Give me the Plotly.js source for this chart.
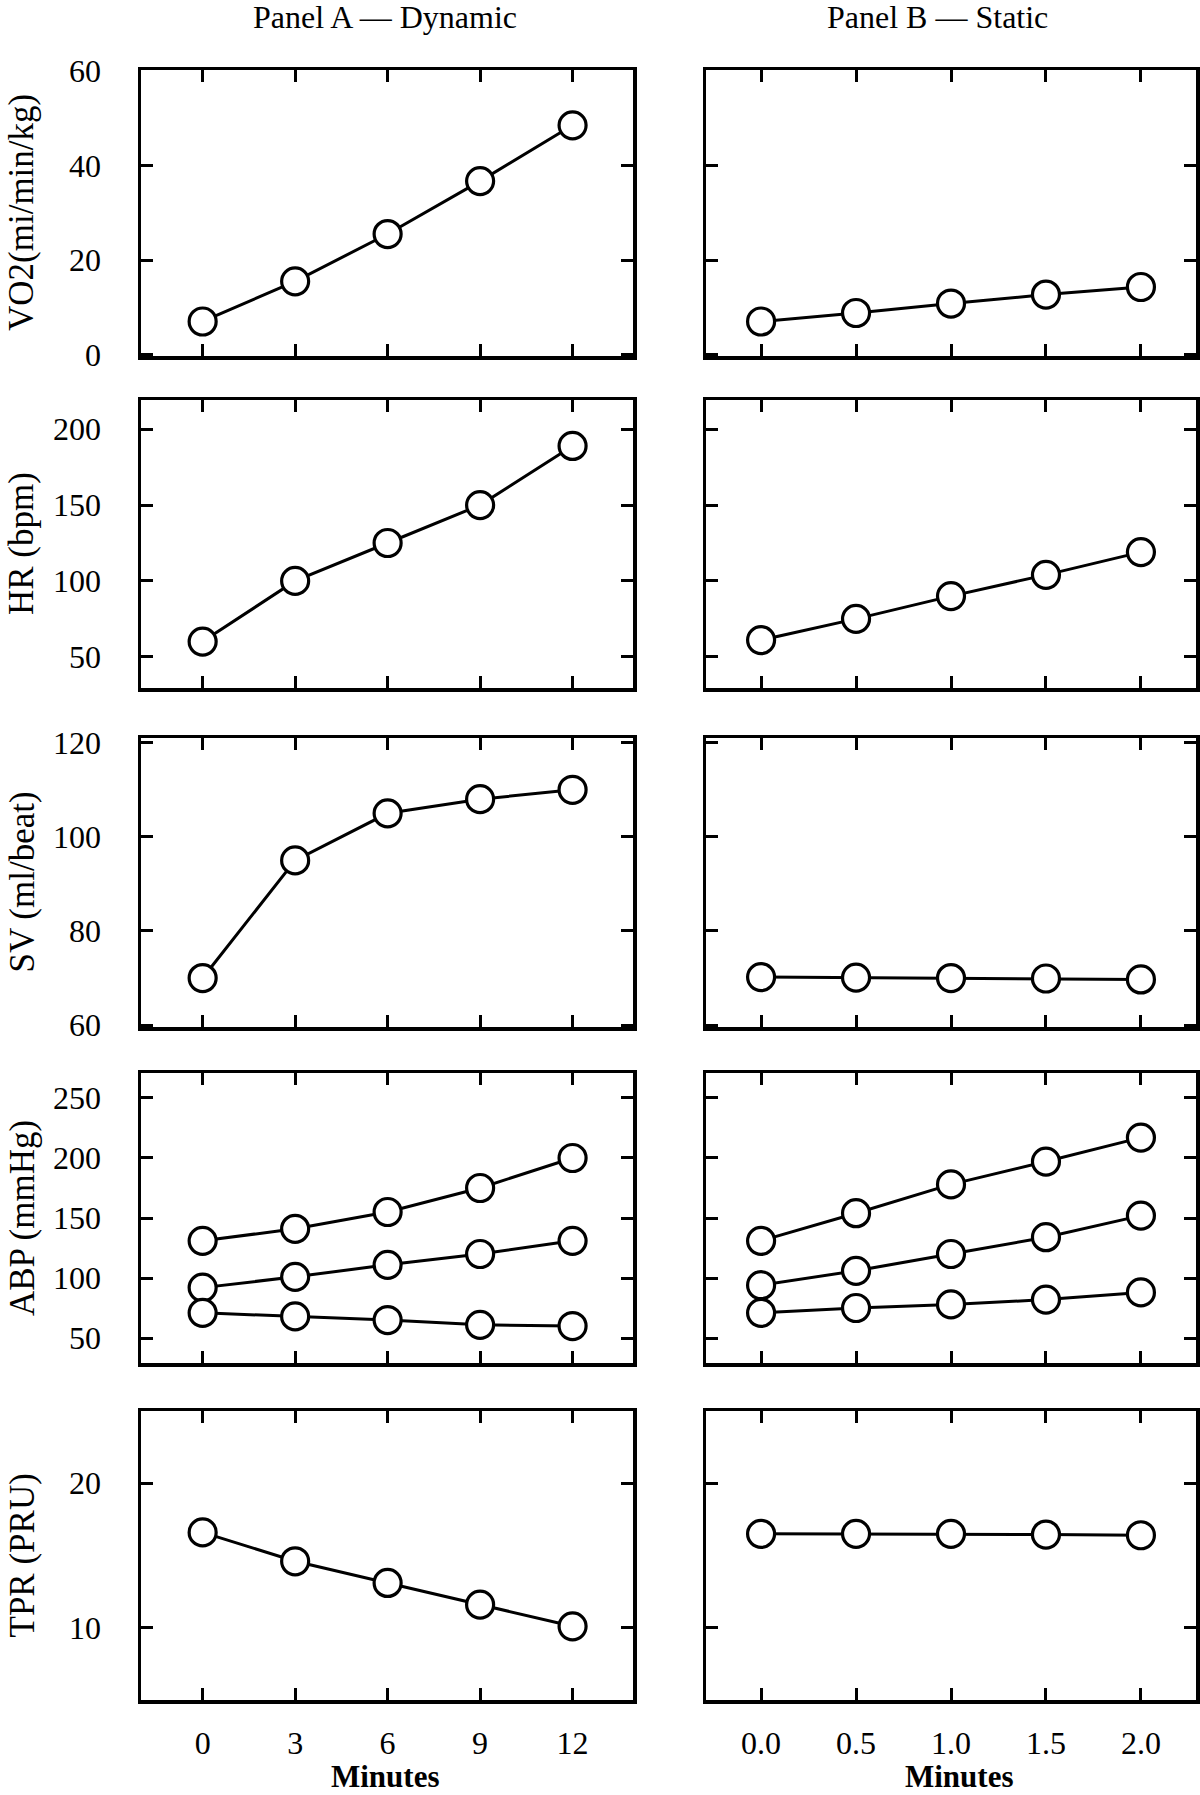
<!DOCTYPE html>
<html>
<head>
<meta charset="utf-8">
<script src="https://cdn.plot.ly/plotly-3.0.1.min.js"></script>
<style>html,body{margin:0;padding:0;background:#fff;}#chart{width:1200px;height:1795px;}</style>
</head>
<body>
<div id="chart"></div>
<script>
// ---- Data ----
const minutesDynamic = [0, 3, 6, 9, 12];
const minutesStatic = [0, 0.5, 1.0, 1.5, 2.0];
const dynamicTickText = ["0", "3", "6", "9", "12"];
const staticTickText = ["0.0", "0.5", "1.0", "1.5", "2.0"];

const vo2Dynamic = [7, 15.5, 25.5, 36.7, 48.5];
const vo2Static = [7, 8.8, 10.8, 12.7, 14.3];
const hrDynamic = [60, 100, 125, 150, 189];
const hrStatic = [61, 75, 90, 104, 119];
const svDynamic = [70, 95, 105, 108, 110];
const svStatic = [70.2, 70.1, 70.0, 69.9, 69.7];
const sbpDynamic = [131, 141, 155, 175, 200];
const mapDynamic = [92, 101, 111, 120, 131];
const dbpDynamic = [71, 68, 65, 61, 60];
const sbpStatic = [131, 154, 178, 197, 217];
const mapStatic = [94, 106, 120, 134, 152];
const dbpStatic = [71, 75, 78, 82, 88];
const tprDynamic = [16.6, 14.6, 13.1, 11.6, 10.1];
const tprStatic = [16.5, 16.5, 16.5, 16.45, 16.4];

const yTitles = ["VO2(mi/min/kg)", "HR (bpm)", "SV (ml/beat)", "ABP (mmHg)", "TPR (PRU)"];
const yTickVals = [[0, 20, 40, 60], [50, 100, 150, 200], [60, 80, 100, 120], [50, 100, 150, 200, 250], [10, 20]];
const columnTitles = ["Panel A \u2014 Dynamic", "Panel B \u2014 Static"];
const xTitle = "Minutes";

// series per row: [dynamic series list, static series list]
const rowSeries = [
  [[vo2Dynamic], [vo2Static]],
  [[hrDynamic], [hrStatic]],
  [[svDynamic], [svStatic]],
  [[sbpDynamic, mapDynamic, dbpDynamic], [sbpStatic, mapStatic, dbpStatic]],
  [[tprDynamic], [tprStatic]]
];

// ---- Layout geometry (pixels) ----
const W = 1200, H = 1795;
const rowPx = [[70, 356], [400, 688], [738, 1027], [1073, 1363], [1411, 1700]];
const colPx = [[141, 633], [706, 1196]];
const yRanges = [[-0.3, 60.2], [29.4, 219.3], [59.6, 121], [29.2, 270.8], [5, 25]];
const xRanges = [[-2, 13.96], [-0.29, 2.29]];
const FONT = "Liberation Serif, Times New Roman, serif";

const traces = [];
const layout = {
  width: W, height: H,
  margin: {l: 0, r: 0, t: 0, b: 0},
  paper_bgcolor: "#fff", plot_bgcolor: "#fff",
  showlegend: false,
  font: {family: FONT, color: "#000", size: 32},
  annotations: []
};

const xsByCol = [minutesDynamic, minutesStatic];
const tickTextByCol = [dynamicTickText, staticTickText];

for (let r = 0; r < 5; r++) {
  for (let c = 0; c < 2; c++) {
    const i = r * 2 + c + 1;
    const xa = "x" + i, ya = "y" + i;
    const xKey = "xaxis" + i, yKey = "yaxis" + i;
    layout[xKey] = {
      domain: [colPx[c][0] / W, colPx[c][1] / W],
      range: xRanges[c],
      anchor: ya,
      showgrid: false, zeroline: false,
      showline: true, linewidth: 3.5, linecolor: "#000", mirror: "ticks",
      ticks: "inside", ticklen: 12, tickwidth: 3, tickcolor: "#000",
      tickmode: "array", tickvals: xsByCol[c], ticktext: tickTextByCol[c],
      showticklabels: r === 4,
      ticklabelstandoff: 12,
      tickfont: {family: FONT, size: 32, color: "#000"},
      fixedrange: true
    };
    layout[yKey] = {
      domain: [1 - rowPx[r][1] / H, 1 - rowPx[r][0] / H],
      range: yRanges[r],
      anchor: xa,
      showgrid: false, zeroline: false,
      showline: true, linewidth: 3.5, linecolor: "#000", mirror: "ticks",
      ticks: "inside", ticklen: 12, tickwidth: 3, tickcolor: "#000",
      tickmode: "array", tickvals: yTickVals[r],
      showticklabels: c === 0,
      ticklabelstandoff: 30,
      tickfont: {family: FONT, size: 32, color: "#000"},
      fixedrange: true
    };
    rowSeries[r][c].forEach(function (vals) {
      traces.push({
        type: "scatter", mode: "lines+markers",
        x: xsByCol[c], y: vals, xaxis: xa, yaxis: ya,
        line: {color: "#000", width: 3},
        marker: {symbol: "circle", size: 27, color: "#fff", line: {color: "#000", width: 3.2}},
        cliponaxis: false, hoverinfo: "skip"
      });
    });
  }
  // y-axis title as annotation
  layout.annotations.push({
    xref: "paper", yref: "paper",
    x: 22 / W, y: 1 - (rowPx[r][0] + rowPx[r][1]) / 2 / H,
    text: yTitles[r], textangle: -90, showarrow: false,
    xanchor: "center", yanchor: "middle",
    font: {family: FONT, size: 35, color: "#000"}
  });
}

// column titles
[385, 937].forEach(function (px, c) {
  layout.annotations.push({
    xref: "paper", yref: "paper", x: px / W, y: 1 - 17 / H,
    text: columnTitles[c], showarrow: false, xanchor: "center", yanchor: "middle",
    font: {family: FONT, size: 32, color: "#000"}
  });
});
// x titles
[385, 959].forEach(function (px) {
  layout.annotations.push({
    xref: "paper", yref: "paper", x: px / W, y: 0,
    text: "<b>" + xTitle + "</b>", showarrow: false, xanchor: "center", yanchor: "bottom",
    borderpad: 0,
    font: {family: FONT, size: 31, color: "#000"}
  });
});

Plotly.newPlot("chart", traces, layout, {staticPlot: true, displayModeBar: false});
</script>
</body>
</html>
